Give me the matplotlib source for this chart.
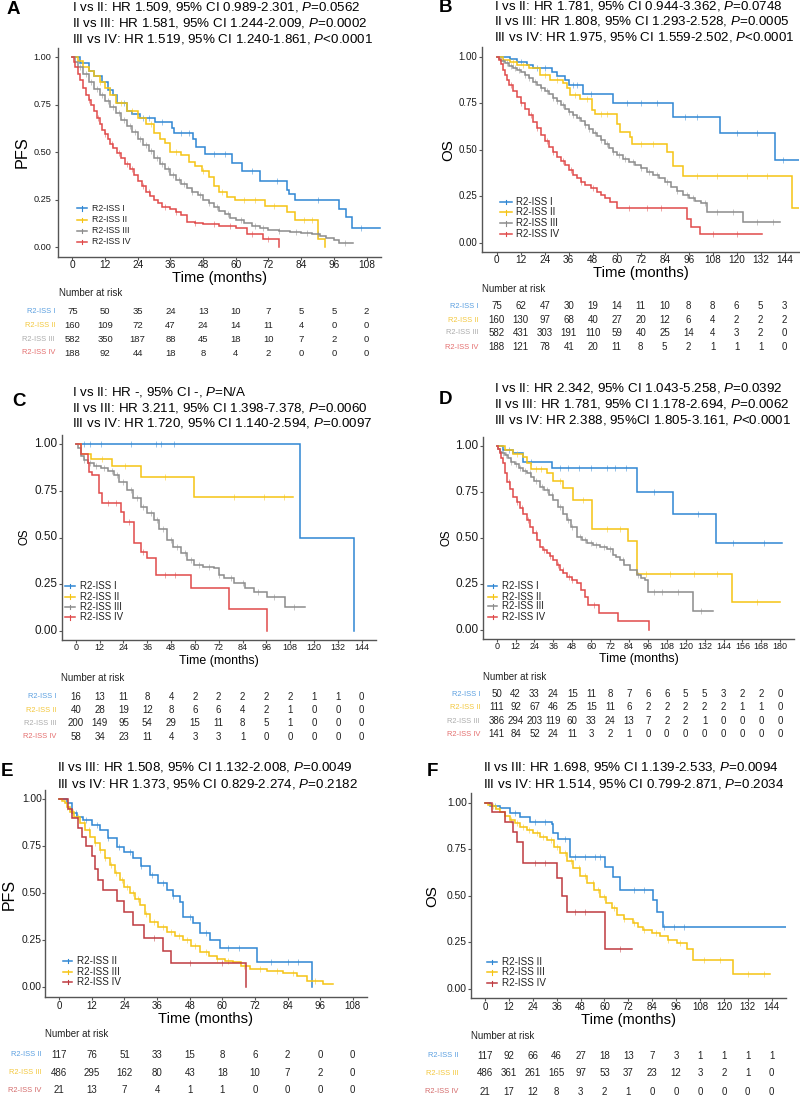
import matplotlib
matplotlib.use("Agg")
import matplotlib.pyplot as plt
import matplotlib.transforms as mtrans
from matplotlib.lines import Line2D
import numpy as np

plt.rcParams['font.family'] = ['Liberation Sans', 'DejaVu Sans']
plt.rcParams['mathtext.fontset'] = 'custom'
plt.rcParams['mathtext.rm'] = 'Liberation Sans'
plt.rcParams['mathtext.it'] = 'Liberation Sans:italic'
plt.rcParams['mathtext.bf'] = 'Liberation Sans:bold'

# ---------------------------------------------------------------- data
# Panel A (PFS, R2-ISS I-IV)
A_I_t = [0, 3, 6, 8, 11, 13, 15, 16.5, 20, 22, 24.8, 30.4, 36.5, 37.5, 44.4, 45.5, 48.7, 58.5, 62.2, 68.9, 78.7, 79.5, 81.7, 98, 100.5, 102.5, 113]
A_I_s = [1, 0.97, 0.93, 0.90, 0.87, 0.83, 0.80, 0.76, 0.72, 0.70, 0.68, 0.66, 0.63, 0.60, 0.57, 0.53, 0.49, 0.445, 0.40, 0.35, 0.30, 0.28, 0.25, 0.20, 0.16, 0.10, 0.10]
A_I_c = [14, 19, 26, 28, 33, 40, 43, 52, 56, 66, 75, 90, 106]
A_II_t = [0, 2, 4, 6, 8, 10, 12, 14, 16, 20, 24, 27, 30, 32, 34, 36, 40, 43, 45, 47.5, 50, 52, 54, 56.7, 59.7, 70.7, 78.7, 81.7, 90.3, 92.7]
A_II_s = [1, 0.98, 0.95, 0.93, 0.90, 0.87, 0.84, 0.80, 0.76, 0.72, 0.68, 0.65, 0.60, 0.57, 0.55, 0.50, 0.485, 0.45, 0.43, 0.40, 0.37, 0.32, 0.29, 0.265, 0.25, 0.215, 0.185, 0.14, 0.04, 0.0]
A_II_c = [10, 18, 22, 29, 38, 48, 55, 63, 67, 74, 85, 88]
A_III_t = [0, 1, 2, 4, 6, 8, 10, 12, 14, 16, 18, 20, 22, 24, 26, 28, 30, 32, 34, 36, 38, 40, 42, 44, 46, 48, 50, 52, 54, 56, 58, 60, 63, 66, 69, 72, 76, 80, 84, 88, 91, 93, 96, 98, 103]
A_III_s = [1, 0.975, 0.952, 0.912, 0.872, 0.834, 0.80, 0.772, 0.738, 0.705, 0.672, 0.638, 0.605, 0.572, 0.54, 0.505, 0.472, 0.44, 0.41, 0.382, 0.355, 0.33, 0.31, 0.292, 0.272, 0.25, 0.232, 0.212, 0.19, 0.172, 0.155, 0.14, 0.125, 0.112, 0.10, 0.092, 0.085, 0.08, 0.076, 0.07, 0.06, 0.05, 0.035, 0.02, 0.02]
A_III_c = [3, 5, 7, 9, 11, 13, 15, 17, 19, 21, 23, 25, 27, 29, 31, 33, 35, 37, 39, 41, 44, 47, 50, 53, 57, 62, 67, 70, 76, 82, 86, 90, 100]
A_IV_t = [0, 0.5, 1, 2, 3, 4, 5, 6, 7, 8, 9, 10, 11, 12, 13, 14, 15, 16.5, 18, 19.5, 21, 22.5, 24, 25.5, 27, 28.5, 30, 31.5, 33, 36, 38, 40, 42, 45, 48, 54, 60, 64, 70, 75.8]
A_IV_s = [1, 0.975, 0.95, 0.915, 0.88, 0.84, 0.80, 0.775, 0.75, 0.715, 0.68, 0.65, 0.62, 0.595, 0.57, 0.545, 0.52, 0.495, 0.47, 0.44, 0.41, 0.38, 0.35, 0.32, 0.29, 0.27, 0.25, 0.23, 0.21, 0.20, 0.185, 0.17, 0.13, 0.125, 0.12, 0.11, 0.10, 0.07, 0.04, 0.0]
A_IV_c = [6, 9.5, 12, 14.5, 17, 20, 22, 26, 28, 34, 38, 45, 52, 58, 66, 72]
A_risk_I = [75, 50, 35, 24, 13, 10, 7, 5, 5, 2]
A_risk_II = [160, 109, 72, 47, 24, 14, 11, 4, 0, 0]
A_risk_III = [582, 350, 187, 88, 45, 18, 10, 7, 2, 0]
A_risk_IV = [188, 92, 44, 18, 8, 4, 2, 0, 0, 0]
A_header = ["I vs II: HR 1.509, 95% CI 0.989-2.301, $\\mathit{P}$=0.0562",
            "II vs III: HR 1.581, 95% CI 1.244-2.009, $\\mathit{P}$=0.0002",
            "III vs IV: HR 1.519, 95% CI 1.240-1.861, $\\mathit{P}$<0.0001"]

# Panel B (OS, R2-ISS I-IV)
B_I_t = [0, 6.7, 10, 15, 18, 27.5, 30, 34, 36, 43, 58, 88, 111.7, 139, 151.7]
B_I_s = [1, 0.99, 0.973, 0.955, 0.94, 0.92, 0.896, 0.875, 0.848, 0.80, 0.75, 0.677, 0.59, 0.445, 0.445]
B_I_c = [12, 20, 24, 38, 40, 47, 65, 72, 80, 94, 100, 120, 130, 143]
B_II_t = [0, 3.3, 6.7, 10, 16, 21.7, 26.7, 33.3, 35, 36.7, 41.7, 47.5, 49, 60, 61.7, 66.7, 67.5, 85, 88.3, 93.3, 147.5, 151.7]
B_II_s = [1, 0.98, 0.97, 0.955, 0.94, 0.90, 0.875, 0.86, 0.83, 0.794, 0.77, 0.713, 0.69, 0.64, 0.597, 0.57, 0.53, 0.49, 0.414, 0.358, 0.185, 0.185]
B_II_c = [8, 13, 24, 30, 39, 45, 52, 55, 72, 78, 100, 110, 125, 135]
B_III_t = [0, 1, 2, 4, 6, 8, 10, 12, 14, 16, 18, 20, 22, 24, 26, 28, 30, 32, 34, 36, 38, 40, 42, 44, 46, 48, 50, 52, 54, 56, 58, 60, 63, 66, 69, 72, 75, 78, 81, 84, 87, 90, 93, 96, 99, 102, 105, 123.3, 141.7]
B_III_s = [1, 0.99, 0.978, 0.965, 0.952, 0.94, 0.93, 0.92, 0.902, 0.884, 0.866, 0.85, 0.834, 0.818, 0.80, 0.78, 0.76, 0.74, 0.72, 0.705, 0.688, 0.67, 0.652, 0.633, 0.612, 0.592, 0.572, 0.55, 0.53, 0.51, 0.49, 0.47, 0.45, 0.435, 0.42, 0.40, 0.38, 0.366, 0.35, 0.325, 0.30, 0.28, 0.255, 0.24, 0.225, 0.212, 0.167, 0.113, 0.113]
B_III_c = [3, 5, 7, 9, 11, 14, 16, 19, 22, 25, 28, 30, 33, 36, 38, 41, 44, 46, 49, 52, 55, 58, 61, 64, 68, 72, 76, 80, 85, 90, 95, 98, 104, 110, 118, 130, 138]
B_IV_t = [0, 1, 2, 3, 4, 5, 6, 8, 10, 12, 14, 16, 18, 20, 22, 24, 26, 28, 30, 32, 34, 36, 38, 40, 42, 44, 47, 50, 52, 54, 56.7, 60, 95, 97, 101.7, 132.5]
B_IV_s = [1, 0.98, 0.96, 0.93, 0.90, 0.875, 0.848, 0.815, 0.785, 0.752, 0.72, 0.685, 0.65, 0.615, 0.579, 0.548, 0.516, 0.49, 0.462, 0.44, 0.418, 0.39, 0.364, 0.346, 0.328, 0.31, 0.292, 0.275, 0.256, 0.238, 0.22, 0.185, 0.13, 0.086, 0.045, 0.045]
B_IV_c = [7, 12, 17, 20, 25, 28, 33, 37, 42, 48, 66, 75, 82, 108, 120]
B_risk_I = [75, 62, 47, 30, 19, 14, 11, 10, 8, 8, 6, 5, 3]
B_risk_II = [160, 130, 97, 68, 40, 27, 20, 12, 6, 4, 2, 2, 2]
B_risk_III = [582, 431, 303, 191, 110, 59, 40, 25, 14, 4, 3, 2, 0]
B_risk_IV = [188, 121, 78, 41, 20, 11, 8, 5, 2, 1, 1, 1, 0]
B_header = ["I vs II: HR 1.781, 95% CI 0.944-3.362, $\\mathit{P}$=0.0748",
            "II vs III: HR 1.808, 95% CI 1.293-2.528, $\\mathit{P}$=0.0005",
            "III vs IV: HR 1.975, 95% CI 1.559-2.502, $\\mathit{P}$<0.0001"]

# Panel C (OS, R2-ISS I-IV)
C_I_t = [0, 113, 140.3]
C_I_s = [1, 0.5, 0.0]
C_I_c = [3.9, 7.3, 12.6, 27.6, 40.2, 42.7, 49.4]
C_II_t = [0, 2.5, 7.5, 18.4, 32.7, 59.4, 109.4]
C_II_s = [1, 0.948, 0.92, 0.884, 0.826, 0.72, 0.72]
C_II_c = [13, 25, 45, 79.6, 94.7, 104.7]
C_III_t = [0, 1.3, 2.5, 4, 5.9, 9, 12.6, 16, 19.3, 22, 26, 29, 32.7, 36, 39.4, 42, 46, 49, 52.8, 56, 59.4, 64, 69.5, 72, 74.5, 79.5, 85, 89.6, 96.3, 105.5, 115.6]
C_III_s = [1, 0.98, 0.94, 0.915, 0.898, 0.885, 0.871, 0.855, 0.835, 0.80, 0.755, 0.71, 0.665, 0.63, 0.594, 0.545, 0.487, 0.45, 0.415, 0.38, 0.352, 0.343, 0.335, 0.30, 0.281, 0.254, 0.23, 0.209, 0.182, 0.125, 0.125]
C_III_c = [4, 7, 10, 14, 18, 21, 24, 28, 31, 34, 38, 41, 44, 48, 51, 55, 58, 62, 67, 72, 78, 84, 92, 100, 110]
C_IV_t = [0, 2.5, 5.9, 6.7, 8.4, 11.7, 13.4, 22.6, 24.3, 29.3, 32.7, 36, 40.2, 57.8, 77, 96.3]
C_IV_s = [1, 0.95, 0.90, 0.853, 0.835, 0.737, 0.683, 0.638, 0.585, 0.469, 0.424, 0.388, 0.299, 0.227, 0.115, 0.0]
C_IV_c = [16, 20, 27, 34, 45, 50]
C_risk_I = [16, 13, 11, 8, 4, 2, 2, 2, 2, 2, 1, 1, 0]
C_risk_II = [40, 28, 19, 12, 8, 6, 6, 4, 2, 1, 0, 0, 0]
C_risk_III = [200, 149, 95, 54, 29, 15, 11, 8, 5, 1, 0, 0, 0]
C_risk_IV = [58, 34, 23, 11, 4, 3, 3, 1, 0, 0, 0, 0, 0]
C_header = ["I vs II: HR -, 95% CI -, $\\mathit{P}$=N/A",
            "II vs III: HR 3.211, 95% CI 1.398-7.378, $\\mathit{P}$=0.0060",
            "III vs IV: HR 1.720, 95% CI 1.140-2.594, $\\mathit{P}$=0.0097"]

# Panel D (OS, R2-ISS I-IV)
D_I_t = [0, 4.2, 10.6, 16.9, 34.9, 88.9, 112.1, 139.2, 181]
D_I_s = [1, 0.978, 0.96, 0.911, 0.879, 0.752, 0.629, 0.474, 0.474]
D_I_c = [8, 22, 40, 45, 52, 60, 70, 75, 82, 100, 128, 150, 170]
D_II_t = [0, 5, 10.6, 16.9, 19, 22, 31.7, 36, 42.3, 48.6, 60.3, 83.2, 88.9, 149.2, 180]
D_II_s = [1, 0.98, 0.957, 0.94, 0.906, 0.875, 0.851, 0.81, 0.77, 0.707, 0.547, 0.484, 0.303, 0.154, 0.154]
D_II_c = [13, 25, 28, 40, 55, 70, 78, 95, 110, 125, 140, 165]
D_III_t = [0, 1, 2, 3.5, 5, 7, 9, 11.7, 14, 16.5, 19, 21.5, 24, 27.5, 30, 33, 36, 39, 42, 44.4, 47, 50.8, 54, 57.1, 61, 65.6, 70, 74, 76, 78.3, 81, 84.6, 88.9, 91.5, 94.2, 96.3, 124.8, 137.1]
D_III_s = [1, 0.985, 0.97, 0.96, 0.95, 0.933, 0.915, 0.90, 0.882, 0.866, 0.851, 0.83, 0.81, 0.779, 0.76, 0.733, 0.707, 0.67, 0.632, 0.598, 0.56, 0.507, 0.488, 0.471, 0.46, 0.449, 0.44, 0.41, 0.395, 0.38, 0.355, 0.326, 0.299, 0.285, 0.272, 0.208, 0.103, 0.103]
D_III_c = [4, 6, 9, 12, 15, 18, 21, 25, 29, 32, 35, 40, 45, 48, 53, 56, 60, 63, 68, 72, 80, 90, 100, 105, 115, 130]
D_IV_t = [0, 1, 2, 3, 4.2, 5.2, 6.3, 8.5, 10.6, 12.7, 14.8, 17, 19, 21, 23.3, 25.5, 27.5, 29.5, 31.7, 34, 36, 38, 40.2, 42.3, 44.4, 47.5, 50.8, 53.5, 56.1, 58.2, 65, 77.2, 96.9]
D_IV_s = [1, 0.985, 0.96, 0.935, 0.906, 0.855, 0.806, 0.765, 0.725, 0.693, 0.661, 0.63, 0.598, 0.56, 0.525, 0.49, 0.453, 0.435, 0.417, 0.40, 0.38, 0.353, 0.326, 0.308, 0.29, 0.272, 0.254, 0.218, 0.181, 0.136, 0.091, 0.049, 0.0]
D_IV_c = [8, 13, 16, 20, 25, 30, 34, 39, 42, 46, 48, 62]
D_risk_I = [50, 42, 33, 24, 15, 11, 8, 7, 6, 6, 5, 5, 3, 2, 2, 0]
D_risk_II = [111, 92, 67, 46, 25, 15, 11, 6, 2, 2, 2, 2, 2, 1, 1, 0]
D_risk_III = [386, 294, 203, 119, 60, 33, 24, 13, 7, 2, 2, 1, 0, 0, 0, 0]
D_risk_IV = [141, 84, 52, 24, 11, 3, 2, 1, 0, 0, 0, 0, 0, 0, 0, 0]
D_header = ["I vs II: HR 2.342, 95% CI 1.043-5.258, $\\mathit{P}$=$\\mathit{0.0392}$",
            "II vs III: HR 1.781, 95% CI 1.178-2.694, $\\mathit{P}$=0.0062",
            "III vs IV: HR 2.388, 95%CI 1.805-3.161, $\\mathit{P}$<0.0001"]

# Panel E (PFS, R2-ISS II-IV)
E_II_t = [0, 2.7, 4.6, 6.5, 8.8, 12, 15, 18, 21.1, 24, 27.2, 30, 33.4, 36.5, 39.5, 42, 44.4, 45.7, 49.3, 51.8, 55.5, 59.2, 72.7, 92.9]
E_II_s = [1, 0.98, 0.926, 0.905, 0.89, 0.865, 0.837, 0.795, 0.748, 0.718, 0.686, 0.645, 0.597, 0.555, 0.518, 0.485, 0.455, 0.376, 0.34, 0.287, 0.252, 0.207, 0.133, 0.0]
E_II_c = [6, 10, 14, 18, 22, 26, 30, 34, 38, 42, 48, 54, 62, 66, 78, 84, 88]
E_III_t = [0, 1, 2.2, 3, 4, 5.5, 7.6, 9.5, 11.3, 13, 15, 17, 18.7, 20.5, 22.3, 24, 26, 28, 29.7, 31.5, 33.4, 36.5, 39.5, 42.5, 45.6, 48.5, 51.8, 55, 57.9, 61, 64, 67, 70.2, 76.3, 82.4, 87.4, 91.1, 97.2, 100.7]
E_III_s = [1, 0.99, 0.98, 0.958, 0.934, 0.905, 0.872, 0.837, 0.801, 0.766, 0.73, 0.69, 0.65, 0.61, 0.571, 0.535, 0.50, 0.468, 0.438, 0.39, 0.349, 0.322, 0.296, 0.274, 0.252, 0.222, 0.189, 0.168, 0.15, 0.142, 0.133, 0.115, 0.096, 0.087, 0.078, 0.062, 0.035, 0.018, 0.018]
E_III_c = [3, 5, 7, 9, 11, 13, 15, 17, 19, 21, 23, 25, 27, 29, 32, 35, 38, 41, 44, 47, 50, 54, 58, 62, 68, 74, 80, 86, 94]
E_IV_t = [0, 3.3, 4.6, 7, 8.2, 10, 11.9, 13, 14.4, 16.2, 21.1, 23.9, 27.2, 31.2, 38.1, 41, 68.6]
E_IV_s = [1, 0.95, 0.90, 0.85, 0.80, 0.75, 0.70, 0.63, 0.57, 0.52, 0.46, 0.40, 0.33, 0.26, 0.195, 0.13, 0.0]
E_IV_c = [35, 48, 60]
E_risk_II = [117, 76, 51, 33, 15, 8, 6, 2, 0, 0]
E_risk_III = [486, 295, 162, 80, 43, 18, 10, 7, 2, 0]
E_risk_IV = [21, 13, 7, 4, 1, 1, 0, 0, 0, 0]
E_header = ["II vs III: HR 1.508, 95% CI 1.132-2.008, $\\mathit{P}$=0.0049",
            "III vs IV: HR 1.373, 95% CI 0.829-2.274, $\\mathit{P}$=0.2182"]

# Panel F (OS, R2-ISS II-IV)
F_II_t = [0, 2.5, 7.5, 12.6, 17.6, 22.6, 33.5, 34.3, 36.8, 42.7, 60.3, 64.5, 67.8, 84.6, 86.3, 89.6, 152]
F_II_s = [1, 0.982, 0.97, 0.943, 0.925, 0.898, 0.886, 0.836, 0.804, 0.71, 0.656, 0.603, 0.531, 0.478, 0.415, 0.334, 0.334]
F_II_c = [5, 15, 25, 30, 40, 45, 50, 55, 58, 75, 80, 90, 95, 100]
F_III_t = [0, 1.5, 3.4, 5.5, 7.5, 10, 12.6, 15, 17.6, 21, 24.3, 27.5, 31, 34.5, 37.7, 41, 44.4, 47.8, 51.1, 54.5, 57.8, 60.8, 63.7, 66.2, 70, 74.5, 77, 79.5, 84, 87.9, 92, 96.3, 101.3, 104.7, 124.8, 143.2]
F_III_s = [1, 0.99, 0.98, 0.966, 0.952, 0.93, 0.907, 0.889, 0.871, 0.853, 0.836, 0.818, 0.80, 0.764, 0.728, 0.688, 0.648, 0.607, 0.567, 0.531, 0.495, 0.464, 0.433, 0.397, 0.375, 0.353, 0.335, 0.317, 0.30, 0.284, 0.265, 0.245, 0.213, 0.156, 0.079, 0.079]
F_III_c = [4, 7, 10, 13, 16, 19, 22, 26, 29, 33, 36, 40, 43, 47, 50, 54, 57, 60, 65, 70, 75, 80, 86, 92, 98, 110, 118, 132, 140]
F_IV_t = [0, 3.4, 10.1, 14.2, 15.9, 19.2, 36, 38.5, 41, 60.3, 73.7]
F_IV_s = [1, 0.952, 0.898, 0.844, 0.79, 0.675, 0.594, 0.50, 0.415, 0.213, 0.213]
F_IV_c = [25, 30, 45, 50, 68]
F_risk_II = [117, 92, 66, 46, 27, 18, 13, 7, 3, 1, 1, 1, 1]
F_risk_III = [486, 361, 261, 165, 97, 53, 37, 23, 12, 3, 2, 1, 0]
F_risk_IV = [21, 17, 12, 8, 3, 2, 1, 0, 0, 0, 0, 0, 0]
F_header = ["II vs III: HR 1.698, 95% CI 1.139-2.533, $\\mathit{P}$=0.0094",
            "III vs IV: HR 1.514, 95% CI 0.799-2.871, $\\mathit{P}$=0.2034"]

names4 = ["R2-ISS I", "R2-ISS II", "R2-ISS III", "R2-ISS IV"]
names3 = ["R2-ISS II", "R2-ISS III", "R2-ISS IV"]

# ---------------------------------------------------------------- style
BLUE, YELLOW, GREY, RED, DRED = '#2F86D3', '#F5C414', '#8C8C8C', '#E04A4A', '#BE3A40'
LBLUE, LYELLOW, LGREY, LRED, LDRED = '#5A9FE0', '#F3C73C', '#ABABAB', '#E46E6E', '#D46A6A'
AXC = '#555555'
TXT = '#1a1a1a'

W, H = 800, 1095
fig = plt.figure(figsize=(W / 100, H / 100), dpi=100)


def fx(x):
    return x / W


def fy(y):
    return 1 - y / H


def step_value(t, s, x):
    t = np.asarray(t, float)
    s = np.asarray(s, float)
    i = np.searchsorted(t, x, side='right') - 1
    return s[np.clip(i, 0, len(s) - 1)]


def draw_panel(p):
    x0, x1, yt, yb = p['box']
    ax = fig.add_axes([fx(x0), fy(yb), fx(x1) - fx(x0), fy(yt) - fy(yb)])
    xmax = p['xmax']
    pad = xmax * 0.05
    ax.set_xlim(-pad, xmax + pad)
    ax.set_ylim(-0.05, 1.05)
    for (t, s, cz), c in zip(p['curves'], p['colors']):
        ax.step(t, s, where='post', color=c, lw=1.1, solid_joinstyle='miter')
        cz = [v for v in cz if v <= t[-1]]
        ax.plot(cz, step_value(t, s, np.asarray(cz, float)), ls='none', marker='|',
                ms=4, mew=0.7, color=c, alpha=0.5)
    for sp in ['top', 'right']:
        ax.spines[sp].set_visible(False)
    for sp in ['left', 'bottom']:
        ax.spines[sp].set_color(AXC)
        ax.spines[sp].set_linewidth(1.0)
    breaks = list(range(0, xmax + 1, 12))
    ax.set_xticks(breaks)
    ax.set_yticks([0, 0.25, 0.5, 0.75, 1.0])
    ax.tick_params(length=2.5, width=0.8, color=AXC, labelbottom=False, labelleft=False)
    trx = mtrans.blended_transform_factory(ax.transData, fig.transFigure)
    try_ = mtrans.blended_transform_factory(fig.transFigure, ax.transData)
    for b in breaks:
        ax.text(b, fy(p['xtick_y']), str(b), transform=trx, ha='center', va='center',
                fontsize=p['xtick_size'], color=TXT)
    for v, lab in zip([0, 0.25, 0.5, 0.75, 1.0], ['0.00', '0.25', '0.50', '0.75', '1.00']):
        ax.text(fx(p['ytick_r']), v, lab, transform=try_, ha='right', va='center',
                fontsize=p['ytick_size'], color=TXT)
    fig.text(fx((x0 + x1) / 2), fy(p['xlab_y']), 'Time (months)', ha='center', va='center',
             fontsize=p['xlab_size'], color='black')
    yl, ylx, yly, yls = p['ylab']
    fig.text(fx(ylx), fy(yly), yl, rotation=90, ha='center', va='center', fontsize=yls, color='black')
    L, lx, ly = p['letter']
    fig.text(fx(lx), fy(ly), L, ha='left', va='center', fontsize=13.5, fontweight='bold')
    for line, hy in zip(p['header'], p['header_y']):
        fig.text(fx(p['header_x']), fy(hy), line, ha='left', va='center', fontsize=9.6, color='black')
    lx0, lx1, ltx, lys, lsize = p['legend']
    for nm, c, yy in zip(p['names'], p['colors'], lys):
        fig.add_artist(Line2D([fx(lx0), fx(lx1)], [fy(yy), fy(yy)], color=c, lw=1.1,
                              transform=fig.transFigure))
        xm = (lx0 + lx1) / 2
        fig.add_artist(Line2D([fx(xm), fx(xm)], [fy(yy - 2.2), fy(yy + 2.2)], color=c, lw=0.8,
                              transform=fig.transFigure))
        fig.text(fx(ltx), fy(yy), nm, ha='left', va='center', fontsize=lsize, color='#222222')
    (tx, ty), rows, lab_r, rsize = p['risk_pos']
    fig.text(fx(tx), fy(ty), 'Number at risk', ha='left', va='center', fontsize=7, color='#222222')
    for nm, lc, vals, ry in zip(p['names'], p['light'], p['risk'], rows):
        fig.text(fx(lab_r), fy(ry), nm, ha='right', va='center', fontsize=5.4, color=lc)
        for b, v in zip(breaks, vals):
            ax.text(b, fy(ry), str(v), transform=trx, ha='center', va='center',
                    fontsize=rsize, color='#222222')
    return ax


panels = [
    dict(box=(57.6, 381.3, 48, 256.5), xmax=108,
         curves=[(A_I_t, A_I_s, A_I_c), (A_II_t, A_II_s, A_II_c), (A_III_t, A_III_s, A_III_c), (A_IV_t, A_IV_s, A_IV_c)],
         colors=[BLUE, YELLOW, GREY, RED], light=[LBLUE, LYELLOW, LGREY, LRED], names=names4,
         risk=[A_risk_I, A_risk_II, A_risk_III, A_risk_IV],
         xtick_y=265, xtick_size=7.3, ytick_r=51, ytick_size=6.6,
         xlab_y=278, xlab_size=10.6, ylab=('PFS', 22, 152, 11.7),
         letter=('A', 7, 9), header=A_header, header_x=72, header_y=[7, 23, 39],
         legend=(77, 87, 92, [208.3, 219.7, 230.7, 241.7], 6.3),
         risk_pos=((59, 293), [312, 325.7, 339.4, 353], 55, 6.8)),
    dict(box=(482.3, 799.1, 47.4, 252), xmax=144,
         curves=[(B_I_t, B_I_s, B_I_c), (B_II_t, B_II_s, B_II_c), (B_III_t, B_III_s, B_III_c), (B_IV_t, B_IV_s, B_IV_c)],
         colors=[BLUE, YELLOW, GREY, RED], light=[LBLUE, LYELLOW, LGREY, LRED], names=names4,
         risk=[B_risk_I, B_risk_II, B_risk_III, B_risk_IV],
         xtick_y=260, xtick_size=7.2, ytick_r=477, ytick_size=7,
         xlab_y=273, xlab_size=10.7, ylab=('OS', 448, 150, 10.9),
         letter=('B', 439, 8), header=B_header, header_x=494, header_y=[6, 21.5, 37],
         legend=(500, 511.7, 516, [201.7, 212.3, 223.3, 234], 7),
         risk_pos=((482, 289), [306, 320, 333, 347.3], 478.3, 7)),
    dict(box=(61.5, 376, 435, 640), xmax=144,
         curves=[(C_I_t, C_I_s, C_I_c), (C_II_t, C_II_s, C_II_c), (C_III_t, C_III_s, C_III_c), (C_IV_t, C_IV_s, C_IV_c)],
         colors=[BLUE, YELLOW, GREY, RED], light=[LBLUE, LYELLOW, LGREY, LRED], names=names4,
         risk=[C_risk_I, C_risk_II, C_risk_III, C_risk_IV],
         xtick_y=648, xtick_size=6.5, ytick_r=57.5, ytick_size=8.5,
         xlab_y=661, xlab_size=8.9, ylab=('OS', 25, 537, 8.3),
         letter=('C', 12, 402), header=C_header, header_x=72, header_y=[392, 408, 423],
         legend=(65, 75, 80, [585.7, 596.5, 607, 617.3], 7),
         risk_pos=((61, 678), [697, 710, 723.3, 737], 56.7, 7)),
    dict(box=(482.5, 794.4, 436.8, 639.2), xmax=180,
         curves=[(D_I_t, D_I_s, D_I_c), (D_II_t, D_II_s, D_II_c), (D_III_t, D_III_s, D_III_c), (D_IV_t, D_IV_s, D_IV_c)],
         colors=[BLUE, YELLOW, GREY, RED], light=[LBLUE, LYELLOW, LGREY, LRED], names=names4,
         risk=[D_risk_I, D_risk_II, D_risk_III, D_risk_IV],
         xtick_y=646.7, xtick_size=6.5, ytick_r=478.3, ytick_size=8.5,
         xlab_y=659, xlab_size=8.9, ylab=('OS', 447, 537.7, 8.3),
         letter=('D', 439, 400), header=D_header, header_x=494, header_y=[388.3, 404.3, 420],
         legend=(488, 497, 502, [585.7, 596.5, 606.3, 616.7], 7),
         risk_pos=((483, 677), [694, 707.3, 721.3, 734.3], 480, 7)),
    dict(box=(44.6, 367.4, 789.9, 996.7), xmax=108,
         curves=[(E_II_t, E_II_s, E_II_c), (E_III_t, E_III_s, E_III_c), (E_IV_t, E_IV_s, E_IV_c)],
         colors=[BLUE, YELLOW, DRED], light=[LBLUE, LYELLOW, LDRED], names=names3,
         risk=[E_risk_II, E_risk_III, E_risk_IV],
         xtick_y=1006, xtick_size=7, ytick_r=41.7, ytick_size=7.4,
         xlab_y=1019, xlab_size=10.6, ylab=('PFS', 9, 894, 11.5),
         letter=('E', 1, 772), header=E_header, header_x=57, header_y=[767.3, 784],
         legend=(63, 72, 77, [960.7, 971.7, 981.7], 7.1),
         risk_pos=((45, 1034), [1055, 1072.7, 1090], 41.7, 7)),
    dict(box=(470.7, 786, 793.4, 998.3), xmax=144,
         curves=[(F_II_t, F_II_s, F_II_c), (F_III_t, F_III_s, F_III_c), (F_IV_t, F_IV_s, F_IV_c)],
         colors=[BLUE, YELLOW, DRED], light=[LBLUE, LYELLOW, LDRED], names=names3,
         risk=[F_risk_II, F_risk_III, F_risk_IV],
         xtick_y=1006.7, xtick_size=7, ytick_r=466.7, ytick_size=7.4,
         xlab_y=1020, xlab_size=10.6, ylab=('OS', 432, 896, 10.9),
         letter=('F', 427, 772), header=F_header, header_x=483, header_y=[767.3, 784],
         legend=(487, 497, 502, [961.7, 972.3, 983.3], 7.1),
         risk_pos=((470.7, 1035.7), [1055.7, 1073.3, 1091.7], 458.3, 7)),
]

for p in panels:
    draw_panel(p)

fig.savefig('out.png', dpi=100, facecolor='white')
